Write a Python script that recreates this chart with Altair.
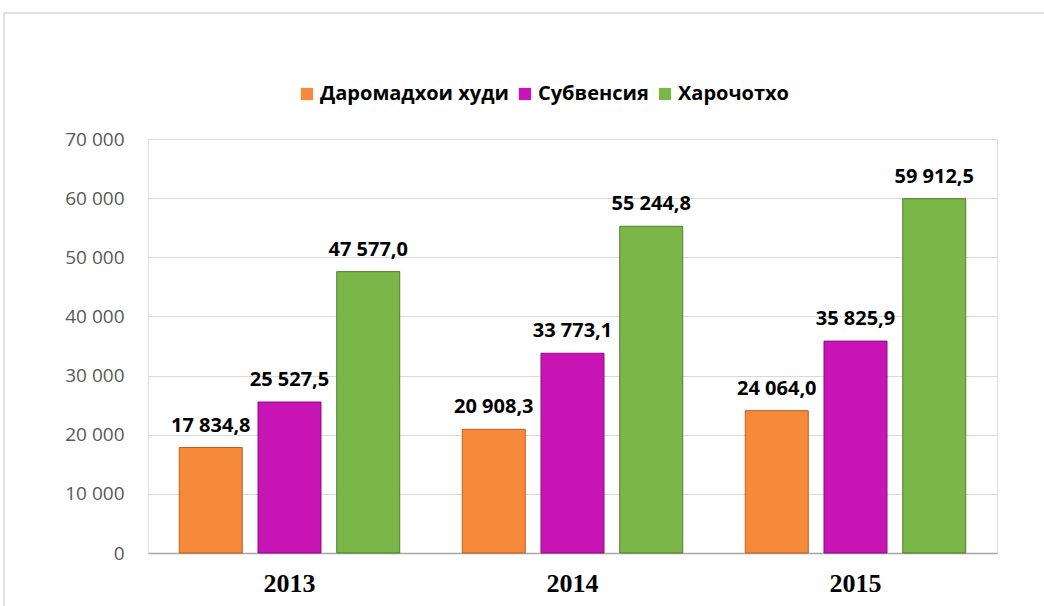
import altair as alt
import pandas as pd

years = ["2013", "2014", "2015"]
series = ["Даромадхои худи", "Субвенсия", "Харочотхо"]
own_income = [17834.8, 20908.3, 24064.0]
subvention = [25527.5, 33773.1, 35825.9]
expenses = [47577.0, 55244.8, 59912.5]
colors = ["#F68A3A", "#C914B6", "#7AB648"]
strokes = ["#B85F1E", "#8A0C7C", "#4F7E2C"]

rows = []
for i, y in enumerate(years):
    for s, vals in zip(series, [own_income, subvention, expenses]):
        v = vals[i]
        lab = f"{v:,.1f}".replace(",", " ").replace(".", ",")
        rows.append({"year": y, "series": s, "value": v, "label": lab})
df = pd.DataFrame(rows)

W, H = 849, 414
LEFT, TOP = 148, 139

x = alt.X("year:N", sort=years,
          scale=alt.Scale(paddingInner=0.221, paddingOuter=0.1105),
          axis=alt.Axis(title=None, labelAngle=0, labelFont="Liberation Serif",
                        labelFontWeight="bold", labelFontSize=26, labelColor="#000000",
                        labelPadding=17, ticks=False, domainColor="#A6A6A6",
                        domainWidth=1.5, grid=False))
xo = alt.XOffset("series:N", sort=series,
                 scale=alt.Scale(paddingInner=0.2, paddingOuter=0))
y = alt.Y("value:Q", scale=alt.Scale(domain=[0, 70000], nice=False),
          axis=alt.Axis(title=None, values=list(range(0, 70001, 10000)),
                        labelExpr="datum.value == 0 ? '0' : floor(datum.value/1000) + ' 000'",
                        labelFont="Open Sans", labelFontSize=19, labelColor="#595959",
                        labelPadding=24, ticks=False, domain=False,
                        gridColor="#D9D9D9", gridWidth=1))

base = alt.Chart(df)

bars = base.mark_bar(strokeWidth=1).encode(
    x=x, xOffset=xo, y=y,
    color=alt.Color("series:N", sort=series,
                    scale=alt.Scale(domain=series, range=colors),
                    legend=alt.Legend(title=None, orient="none", direction="horizontal",
                                      legendX=149, legendY=-55,
                                      symbolType="square", symbolSize=150,
                                      symbolStrokeWidth=0, labelLimit=400,
                                      labelFont="Open Sans", labelFontWeight="bold",
                                      labelFontSize=20, labelColor="#000000",
                                      columnPadding=6, labelOffset=3)),
    stroke=alt.Stroke("series:N", sort=series,
                      scale=alt.Scale(domain=series, range=strokes), legend=None),
)

labels = base.mark_text(baseline="bottom", dy=-12, font="Open Sans",
                        fontWeight="bold", fontSize=20, color="#000000").encode(
    x=x, xOffset=xo, y=y, text="label:N"
)

frame = alt.Chart(pd.DataFrame({"a": [0]})).mark_rect(
    fill=None, stroke="#D9D9D9", strokeWidth=1.5
).encode(
    x=alt.value(4 - LEFT), x2=alt.value(1044 - LEFT + 10),
    y=alt.value(13 - TOP), y2=alt.value(606 - TOP + 10),
)

chart = alt.layer(frame, bars, labels).properties(
    width=W, height=H,
    autosize=alt.AutoSizeParams(type="none"),
    padding={"left": LEFT, "top": TOP, "right": 1044 - LEFT - W, "bottom": 606 - TOP - H},
).configure_view(stroke=None).configure(background="#FFFFFF")

chart.save("out.html", embed_options={"renderer": "svg", "actions": False})
